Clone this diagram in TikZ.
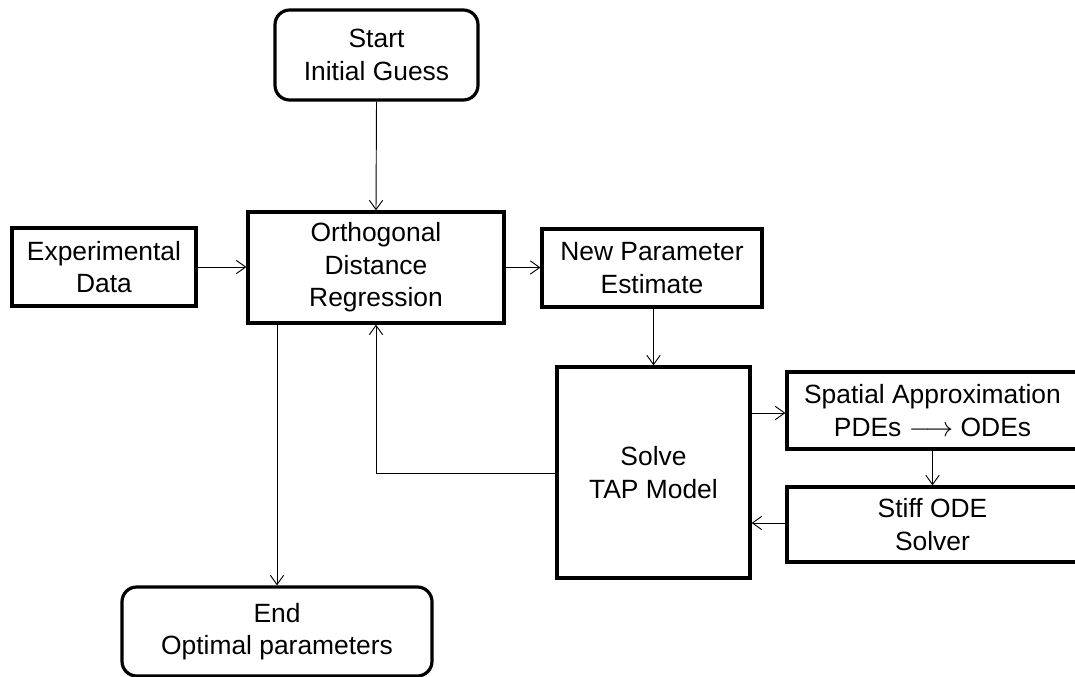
\documentclass[tikz,border=0pt]{standalone}
\usepackage{fontspec}
\setmainfont{Liberation Sans}
\usetikzlibrary{arrows.meta}
\begin{document}
\begin{tikzpicture}[x=0.75pt,y=-0.75pt,
  box/.style={draw=black, line width=2.4pt, inner sep=0pt, align=center,
    font=\fontsize{19.8}{24.4}\selectfont},
  rbox/.style={box, rounded corners=11pt},
  sz/.style 2 args={minimum width={#1*0.75pt}, minimum height={#2*0.75pt}},
  conn/.style={draw=black, line width=0.7pt,
    -{Straight Barb[length=7pt,width=10pt,line width=0.7pt]}}]
\useasboundingbox (0,0) rectangle (1075,677);
\clip (0,0) rectangle (1075,677);
\node[rbox, sz={203}{90}] (start) at (376.5,55) {Start\\Initial Guess};
\node[box, sz={184}{78}] (exp) at (104,267) {Experimental\\Data};
\node[box, sz={256}{111}] (odr) at (376,267.5) {Orthogonal\\Distance\\Regression};
\node[box, sz={220}{78}] (npe) at (652,268) {New Parameter\\Estimate};
\node[box, sz={193}{211}] (tap) at (653.5,472.5) {Solve\\TAP Model};
\node[box, sz={291}{77}] (spa) at (932.5,410.5) {Spatial Approximation\\PDEs $\longrightarrow$ ODEs};
\node[box, sz={291}{75}] (ode) at (932.5,524.5) {Stiff ODE\\Solver};
\node[rbox, sz={310}{89}] (end) at (277,631.5) {End\\Optimal parameters};
\coordinate (fb) at (376,473);
\draw[conn] (start.south) -- (odr.north);
\draw[conn] (exp.east) -- (odr.west |- exp.east);
\draw[conn] (odr.east) -- (npe.west |- odr.east);
\draw[conn] (npe.south -| tap.north) -- (tap.north);
\draw[conn] (tap.east |- 0,413) -- (spa.west |- 0,413);
\draw[conn] (spa.south) -- (ode.north);
\draw[conn] (ode.west |- 0,523) -- (tap.east |- 0,523);
\draw[conn] (tap.west |- fb) -- (fb) -- (odr.south);
\draw[conn] (odr.south -| 277,0) -- (end.north);
\end{tikzpicture}
\end{document}
